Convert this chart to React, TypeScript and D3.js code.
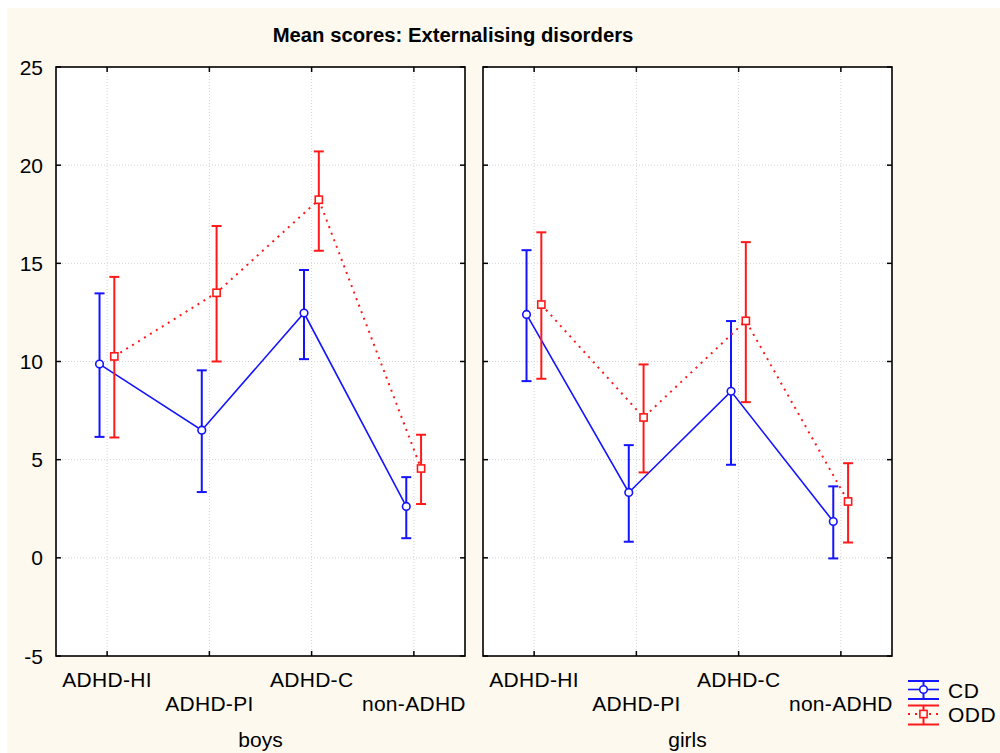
import React from "react";
import * as d3 from "d3";

const categories = ["ADHD-HI", "ADHD-PI", "ADHD-C", "non-ADHD"];
const panels = ["boys", "girls"];
const yTicks = [-5, 0, 5, 10, 15, 20, 25];

const boysCD = [9.87, 6.5, 12.47, 2.62];
const boysCDLow = [6.16, 3.35, 10.12, 1.0];
const boysCDHigh = [13.47, 9.55, 14.66, 4.11];
const boysODD = [10.26, 13.5, 18.24, 4.55];
const boysODDLow = [6.13, 10.0, 15.64, 2.74];
const boysODDHigh = [14.31, 16.9, 20.7, 6.27];

const girlsCD = [12.4, 3.33, 8.48, 1.85];
const girlsCDLow = [9.0, 0.82, 4.74, -0.03];
const girlsCDHigh = [15.67, 5.74, 12.06, 3.64];
const girlsODD = [12.9, 7.15, 12.07, 2.87];
const girlsODDLow = [9.12, 4.35, 7.93, 0.78];
const girlsODDHigh = [16.58, 9.85, 16.08, 4.82];

const BLUE = "#1414ff";
const RED = "#ff1a1a";
const BG = "#fdf9ef";
const FONT = "Liberation Sans, Arial, sans-serif";

const panelData = [
  {
    label: panels[0],
    series: [
      { name: "CD", mean: boysCD, low: boysCDLow, high: boysCDHigh },
      { name: "ODD", mean: boysODD, low: boysODDLow, high: boysODDHigh },
    ],
  },
  {
    label: panels[1],
    series: [
      { name: "CD", mean: girlsCD, low: girlsCDLow, high: girlsCDHigh },
      { name: "ODD", mean: girlsODD, low: girlsODDLow, high: girlsODDHigh },
    ],
  },
];

const top = 67;
const bottom = 656;
const panelX = [56, 483];
const panelW = 409;

export default function App() {
  const y = d3.scaleLinear().domain([-5, 25]).range([bottom, top]);
  const offsets: Record<string, number> = { CD: -7.6, ODD: 7.2 };
  const colors: Record<string, string> = { CD: BLUE, ODD: RED };

  return (
    <svg
      width={1000}
      height={753}
      style={{ position: "absolute", left: 0, top: 0, fontFamily: FONT }}
    >
      <rect x={0} y={0} width={1000} height={753} fill="#ffffff" />
      <rect x={7} y={8} width={993} height={745} fill={BG} />
      <text
        x={453}
        y={42}
        textAnchor="middle"
        fontSize={20.3}
        fontWeight="bold"
        fill="#000"
      >
        Mean scores: Externalising disorders
      </text>
      {panelData.map((p, pi) => {
        const x0 = panelX[pi];
        const x = d3
          .scaleBand<string>()
          .domain(categories)
          .range([x0, x0 + panelW])
          .padding(0);
        const cx = (c: string) => (x(c) as number) + x.bandwidth() / 2;
        return (
          <g key={p.label}>
            <rect x={x0} y={top} width={panelW} height={bottom - top} fill="#fff" />
            {yTicks.slice(1, -1).map((t) => (
              <line
                key={"gy" + t}
                x1={x0}
                x2={x0 + panelW}
                y1={y(t)}
                y2={y(t)}
                stroke="#d4d4d4"
                strokeWidth={1}
                strokeDasharray="1,2"
              />
            ))}
            {categories.map((c) => (
              <line
                key={"gx" + c}
                x1={cx(c)}
                x2={cx(c)}
                y1={top}
                y2={bottom}
                stroke="#d4d4d4"
                strokeWidth={1}
                strokeDasharray="1,2"
              />
            ))}
            {yTicks.map((t) => (
              <g key={"ty" + t}>
                <line x1={x0} x2={x0 + 5} y1={y(t)} y2={y(t)} stroke="#000" strokeWidth={1.5} />
                <line
                  x1={x0 + panelW - 5}
                  x2={x0 + panelW}
                  y1={y(t)}
                  y2={y(t)}
                  stroke="#000"
                  strokeWidth={1.5}
                />
              </g>
            ))}
            {categories.map((c) => (
              <g key={"tx" + c}>
                <line x1={cx(c)} x2={cx(c)} y1={top} y2={top + 5} stroke="#000" strokeWidth={1.5} />
                <line
                  x1={cx(c)}
                  x2={cx(c)}
                  y1={bottom - 5}
                  y2={bottom}
                  stroke="#000"
                  strokeWidth={1.5}
                />
              </g>
            ))}
            <rect
              x={x0}
              y={top}
              width={panelW}
              height={bottom - top}
              fill="none"
              stroke="#000"
              strokeWidth={1.6}
            />
            {pi === 0 &&
              yTicks.map((t) => (
                <text
                  key={"yl" + t}
                  x={43}
                  y={y(t) + 7.5}
                  textAnchor="end"
                  fontSize={21}
                  fill="#000"
                >
                  {t}
                </text>
              ))}
            {categories.map((c, i) => (
              <text
                key={"xl" + c}
                x={cx(c)}
                y={i % 2 === 0 ? 687 : 711}
                textAnchor="middle"
                fontSize={21}
                fill="#000"
                letterSpacing={0.3}
              >
                {c}
              </text>
            ))}
            <text
              x={x0 + panelW / 2}
              y={747}
              textAnchor="middle"
              fontSize={21}
              fill="#000"
            >
              {p.label}
            </text>
            {p.series.map((s) => {
              const col = colors[s.name];
              const px = (i: number) => cx(categories[i]) + offsets[s.name];
              const line = d3
                .line<number>()
                .x((_, i) => px(i))
                .y((v) => y(v));
              return (
                <g key={s.name}>
                  <path
                    d={line(s.mean) || ""}
                    fill="none"
                    stroke={col}
                    strokeWidth={s.name === "CD" ? 1.6 : 2}
                    strokeDasharray={s.name === "CD" ? undefined : "2,5"}
                  />
                  {s.mean.map((v, i) => (
                    <g key={i}>
                      <line
                        x1={px(i)}
                        x2={px(i)}
                        y1={y(s.low[i])}
                        y2={y(s.high[i])}
                        stroke={col}
                        strokeWidth={2}
                      />
                      <line
                        x1={px(i) - 5}
                        x2={px(i) + 5}
                        y1={y(s.low[i])}
                        y2={y(s.low[i])}
                        stroke={col}
                        strokeWidth={2}
                      />
                      <line
                        x1={px(i) - 5}
                        x2={px(i) + 5}
                        y1={y(s.high[i])}
                        y2={y(s.high[i])}
                        stroke={col}
                        strokeWidth={2}
                      />
                      {s.name === "CD" ? (
                        <circle cx={px(i)} cy={y(v)} r={3.8} fill="#fff" stroke={col} strokeWidth={1.6} />
                      ) : (
                        <rect
                          x={px(i) - 3.6}
                          y={y(v) - 3.6}
                          width={7.2}
                          height={7.2}
                          fill="#fff"
                          stroke={col}
                          strokeWidth={1.6}
                        />
                      )}
                    </g>
                  ))}
                </g>
              );
            })}
          </g>
        );
      })}
      <g>
        <line x1={908} x2={939} y1={681} y2={681} stroke={BLUE} strokeWidth={2} />
        <line x1={908} x2={939} y1={689.5} y2={689.5} stroke={BLUE} strokeWidth={1.6} />
        <line x1={908} x2={939} y1={699} y2={699} stroke={BLUE} strokeWidth={2} />
        <line x1={923.5} x2={923.5} y1={681} y2={699} stroke={BLUE} strokeWidth={2} />
        <circle cx={923.5} cy={689.5} r={3.8} fill="#fff" stroke={BLUE} strokeWidth={1.6} />
        <text x={948} y={697.5} fontSize={21} fill="#000" letterSpacing={0.5}>
          CD
        </text>
        <line x1={908} x2={939} y1={705.5} y2={705.5} stroke={RED} strokeWidth={2} />
        <line
          x1={908}
          x2={939}
          y1={714}
          y2={714}
          stroke={RED}
          strokeWidth={2}
          strokeDasharray="2,5"
        />
        <line x1={908} x2={939} y1={724.5} y2={724.5} stroke={RED} strokeWidth={2} />
        <line x1={923.5} x2={923.5} y1={705.5} y2={724.5} stroke={RED} strokeWidth={2} />
        <rect x={919.9} y={710.4} width={7.2} height={7.2} fill="#fff" stroke={RED} strokeWidth={1.6} />
        <text x={948} y={721.5} fontSize={21} fill="#000" letterSpacing={0.5}>
          ODD
        </text>
      </g>
    </svg>
  );
}
